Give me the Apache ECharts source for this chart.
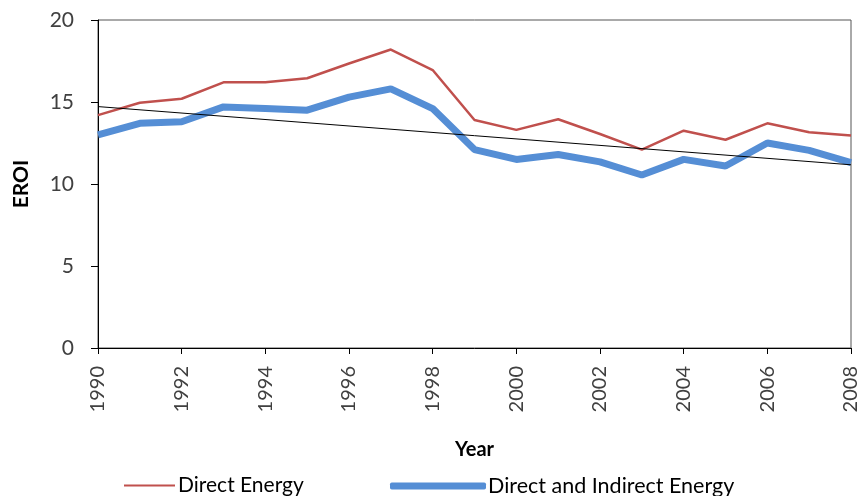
<!DOCTYPE html>
<html>
<head>
<meta charset="utf-8">
<script src="https://cdn.jsdelivr.net/npm/echarts@6/dist/echarts.min.js"></script>
<style>
  html, body { margin: 0; padding: 0; background: #fff; }
  #chart { width: 863px; height: 496px; }
</style>
</head>
<body>
<div id="chart"></div>
<script>
const years = ['1990', '1991', '1992', '1993', '1994', '1995', '1996', '1997', '1998', '1999',
  '2000', '2001', '2002', '2003', '2004', '2005', '2006', '2007', '2008'];
const directEnergy = [14.2, 14.95, 15.2, 16.2, 16.2, 16.45, 17.35, 18.2, 16.95, 13.9,
  13.3, 13.95, 13.05, 12.1, 13.25, 12.7, 13.7, 13.15, 12.95];
const directIndirect = [13.0, 13.7, 13.8, 14.7, 14.6, 14.5, 15.3, 15.8, 14.6, 12.1,
  11.5, 11.8, 11.35, 10.55, 11.5, 11.1, 12.5, 12.05, 11.3];
const trendEnds = [['1990', 14.72], ['2008', 11.17]];

const chart = echarts.init(document.getElementById('chart'));
const font = 'Lato, "Open Sans", sans-serif';

const option = {
  animation: false,
  textStyle: { fontFamily: font },
  grid: {
    left: 98, right: 12, top: 20, bottom: 148,
    show: true, borderColor: '#555', borderWidth: 1
  },
  legend: [
    {
      data: ['Direct Energy'],
      left: 119, top: 470,
      icon: 'rect', itemWidth: 51, itemHeight: 2, itemGap: 4,
      textStyle: { fontSize: 21, color: '#000', fontFamily: font, padding: [0, 0, 0, -2] }
    },
    {
      data: ['Direct and Indirect Energy'],
      left: 385, top: 470,
      icon: 'roundRect', itemWidth: 96, itemHeight: 7,
      textStyle: { fontSize: 21.5, color: '#000', fontFamily: font, padding: [0, 0, 0, -3] }
    }
  ],
  xAxis: {
    type: 'category',
    data: years,
    boundaryGap: false,
    name: 'Year',
    nameLocation: 'middle',
    nameGap: 92,
    nameTextStyle: { fontSize: 20, fontWeight: 'bold', color: '#000', fontFamily: font },
    axisLine: { lineStyle: { color: '#000', width: 1 } },
    axisTick: { interval: 1, length: 6, lineStyle: { color: '#000' } },
    axisLabel: {
      interval: 1, rotate: 90, margin: 18,
      fontSize: 20, color: '#404040', fontFamily: font
    },
    splitLine: { show: false }
  },
  yAxis: {
    type: 'value',
    min: 0, max: 20, interval: 5,
    name: 'EROI',
    nameLocation: 'middle',
    nameGap: 66,
    nameTextStyle: { fontSize: 21, fontWeight: 'bold', color: '#000', fontFamily: font },
    axisLine: { show: true, lineStyle: { color: '#000', width: 1 } },
    axisTick: { show: true, length: 7, lineStyle: { color: '#000' } },
    axisLabel: { margin: 24, fontSize: 21, color: '#404040', fontFamily: font },
    splitLine: { show: false }
  },
  series: [
    {
      name: 'Direct Energy',
      type: 'line',
      data: directEnergy,
      showSymbol: false,
      color: '#C0504D',
      lineStyle: { width: 2.5, color: '#C0504D' },
      z: 3
    },
    {
      name: 'Direct and Indirect Energy',
      type: 'line',
      data: directIndirect,
      showSymbol: false,
      color: '#558ED5',
      lineStyle: { width: 7, color: '#558ED5' },
      z: 2
    },
    {
      name: 'Trend',
      type: 'line',
      data: trendEnds,
      showSymbol: false,
      lineStyle: { width: 1, color: '#000' },
      z: 4
    }
  ]
};

chart.setOption(option);
</script>
</body>
</html>
